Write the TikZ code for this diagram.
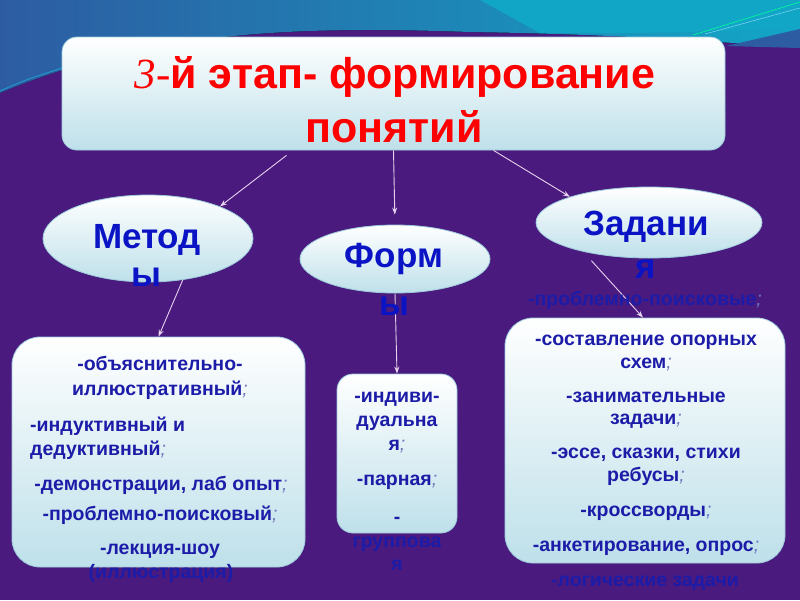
\documentclass[tikz,border=0pt]{standalone}
\usepackage{fontspec}
\setmainfont{Liberation Sans}
\newfontfamily\serifface{Liberation Serif}
\usetikzlibrary{shapes.geometric,arrows.meta}
\definecolor{bgpurple}{HTML}{4A1A7E}
\definecolor{topblue}{HTML}{2D5CA2}
\definecolor{topteal}{HTML}{12A6C6}
\definecolor{cardbot}{HTML}{BEE0EA}
\definecolor{cardline}{HTML}{9CCADA}
\definecolor{txtblue}{HTML}{1C1CA8}
\definecolor{labblue}{HTML}{0A14C4}
\definecolor{titlered}{HTML}{FF0000}
\definecolor{linkc}{HTML}{E6D2EE}
\definecolor{semic}{HTML}{6E78C0}
\newcommand\semi{\textcolor{semic}{\mdseries\itshape;}}
\newcommand\bodyfont{\fontsize{19.5}{22}\selectfont\bfseries}
\newcommand\labfont{\fontsize{35}{40}\selectfont\bfseries}
\newcommand\titlefont{\fontsize{43}{50}\selectfont\bfseries}
\tikzset{
  card/.style={draw=cardline, line width=0.8pt, top color=white, bottom color=cardbot, inner sep=0pt, rectangle},
  oval/.style={ellipse, draw=cardline, line width=0.8pt, top color=white, bottom color=cardbot, inner sep=0pt},
  body/.style={font=\bodyfont, text=txtblue, inner sep=0pt, anchor=base},
  bodyl/.style={body, anchor=base west},
  lab/.style={font=\labfont, text=labblue, inner sep=0pt, anchor=base},
  ttl/.style={font=\titlefont, text=titlered, inner sep=0pt, anchor=base},
  link/.style={draw=linkc, line width=0.9pt, -{Stealth[length=7pt,width=5pt]}}
}
\begin{document}
\begin{tikzpicture}[x=1pt,y=-1pt]
\useasboundingbox (0,0) rectangle (800,600);
% background
\fill[bgpurple] (0,0) rectangle (800,600);
\fill[left color=topblue, right color=topteal] (0,0) -- (800,0) -- (800,48)
  .. controls (700,40) and (600,34) .. (470,32)
  .. controls (300,26) and (150,30) .. (0,93) -- cycle;
\fill[topteal] (480,0) -- (800,0) -- (800,28) .. controls (740,31) and (640,34) .. (540,33) -- cycle;
\fill[topblue] (726,46) -- (800,29) -- (800,48) -- cycle;
\draw[cyan!70!teal, line width=0.8pt] (0,91) .. controls (25,80) .. (62,68);
\draw[green!40!cyan, line width=0.6pt] (693,35) -- (800,2);
\draw[cyan!50!white, line width=0.5pt] (705,34) -- (800,8);

% title card
\node[card, rounded corners=15pt, minimum width=663pt, minimum height=113pt] (title) at (393.5,93.5) {};
\node[ttl] (t1) at (395,88) {{\serifface\mdseries\itshape 3-}й этап- формирование};
\node[ttl] (t2) at (394,142) {понятий};

% ovals
\node[oval, minimum width=210pt, minimum height=87pt] (met) at (148,238.5) {};
\node[oval, minimum width=190pt, minimum height=68pt] (form) at (395,259) {};
\node[oval, minimum width=226pt, minimum height=71pt] (zad) at (649,222.5) {};

% cards
\node[card, rounded corners=28pt, minimum width=293pt, minimum height=230pt] (lbox) at (158.5,452) {};
\node[card, rounded corners=16pt, minimum width=120pt, minimum height=159pt] (mbox) at (397,453.5) {};
\node[card, rounded corners=28pt, minimum width=280pt, minimum height=245pt] (rbox) at (645,440.5) {};

% connectors
\draw[link] ([xshift=-107pt,yshift=-5pt]title.south) -- (met.24);
\draw[link, shorten >=10pt] (title.south) -- (form.north);
\draw[link] ([xshift=100pt]title.south) -- (zad.162);
\draw[link] (met.-50) -- (lbox.north);
\draw[link] (form.south) -- (mbox.north);
\draw[link, shorten <=12pt] (zad.-156) -- ([xshift=-2pt]rbox.north);

% oval labels
\node[lab] (m1) at (147,248) {Метод};
\node[lab] (m2) at (146,286) {ы};
\node[lab] (f1) at (394,267) {Форм};
\node[lab] (f2) at (394,315) {ы};
\node[lab] (z1) at (646,235) {Задани};
\node[lab] (z2) at (646,278) {я};

% left card text
\node[body] (a1) at (160,370) {-объяснительно-};
\node[body] (a2) at (160,395) {иллюстративный\semi};
\node[bodyl] (a3) at (30,431) {-индуктивный и};
\node[bodyl] (a4) at (30,455) {дедуктивный\semi};
\node[body] (a5) at (161,490) {-демонстрации, лаб опыт\semi};
\node[body] (a6) at (160,520) {-проблемно-поисковый\semi};
\node[body] (a7) at (160,554) {-лекция-шоу};
\node[body] (a8) at (161,578) {(иллюстрация)};

% middle card text
\node[body] (b1) at (397,402) {-индиви-};
\node[body] (b2) at (397,426) {дуальна};
\node[body] (b3) at (397,450) {я\semi};
\node[body] (b4) at (397,485) {-парная\semi};
\node[body] (b5) at (397,523) {-};
\node[body] (b6) at (397,547) {группова};
\node[body] (b7) at (397,570) {я};

% right card text
\node[body] (c0) at (645,305) {-проблемно-поисковые\semi};
\node[body] (c1) at (646,345) {-составление опорных};
\node[body] (c2) at (646,368) {схем\semi};
\node[body] (c3) at (646,402) {-занимательные};
\node[body] (c4) at (646,424) {задачи\semi};
\node[body] (c5) at (646,458) {-эссе, сказки, стихи};
\node[body] (c6) at (646,481) {ребусы\semi};
\node[body] (c7) at (646,516) {-кроссворды\semi};
\node[body] (c8) at (646,551) {-анкетирование, опрос\semi};
\node[body] (c9) at (645,586) {-логические задачи};
\end{tikzpicture}
\end{document}
